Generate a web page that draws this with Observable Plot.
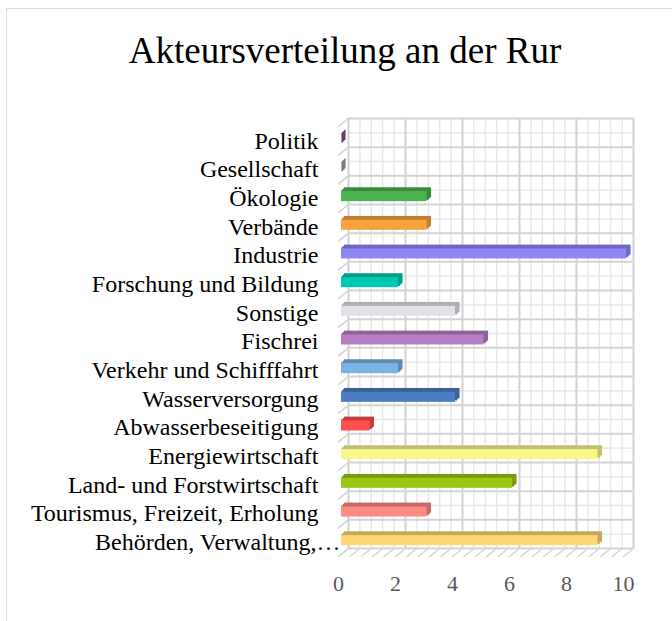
<!DOCTYPE html>
<html>
<head>
<meta charset="utf-8">
<script src="https://cdn.jsdelivr.net/npm/d3@7"></script>
<script src="https://cdn.jsdelivr.net/npm/@observablehq/plot@0.6"></script>
<style>
  html, body { margin: 0; padding: 0; background: #fff; }
  #wrap { position: relative; width: 672px; height: 621px; overflow: hidden; }
  #chart svg { display: block; }
  #border { position: absolute; left: 6px; top: 8px; width: 720px; height: 720px;
            border: 1.5px solid #d9d9d9; box-sizing: border-box; pointer-events: none; }
  #title { position: absolute; left: 0; top: 32px; width: 690px; text-align: center;
           font-family: "Liberation Serif", "Times New Roman", serif; font-size: 37px;
           line-height: 37px; color: #000; white-space: nowrap; }
</style>
</head>
<body>
<div id="wrap">
  <div id="chart"></div>
  <div id="border"></div>
  <div id="title">Akteursverteilung an der Rur</div>
</div>
<script>
// ---- data ----
const categories = [
  "Politik", "Gesellschaft", "Ökologie", "Verbände", "Industrie",
  "Forschung und Bildung", "Sonstige", "Fischrei", "Verkehr und Schifffahrt",
  "Wasserversorgung", "Abwasserbeseitigung", "Energiewirtschaft",
  "Land- und Forstwirtschaft", "Tourismus, Freizeit, Erholung", "Behörden, Verwaltung,…"
];
const values = [0, 0, 3, 3, 10, 2, 4, 5, 2, 4, 1, 9, 6, 3, 9];
const colors = [
  "#8a4a8c", "#a0a0a0", "#4db34f", "#f9a33c", "#8f87f5",
  "#00c9b1", "#e2e1e8", "#b57ec7", "#7cb2e2", "#4a7ec1",
  "#ff4f4f", "#f9f68a", "#9bc713", "#ff8a84", "#ffd773"
];
const xTicks = [0, 2, 4, 6, 8, 10];

// ---- layout / style ----
const W = 672, H = 621;
const mL = 338, mR = 49, mT = 126, mB = 65;
const n = categories.length;
const step = (H - mT - mB) / n;
const barFace = 10;
const inset = (step - barFace) / 2;
const wallDx = 10, wallDy = -8;           // back wall offset
const barDx = 3, barDy = -1.5;            // bar front face offset
const serif = "Liberation Serif, Times New Roman, serif";

const rows = categories.map((c, i) => ({
  cat: c, i, value: values[i], color: colors[i],
  dark: d3.color(colors[i]).darker(0.7).formatHex()
}));

const minorX = d3.range(0, 10.01, 0.4);
const centers = d3.range(n);
const bounds = d3.range(n + 1).map(i => i - 0.5);

const lineShape = { draw(ctx, l) { ctx.moveTo(0, 0); ctx.lineTo(0, -l); } };
const diagLen = Math.hypot(wallDx, wallDy);
const diagRot = 180 + Math.atan2(wallDx, -wallDy) * 180 / Math.PI;

const minorStroke = "#e6e6e6", majorStroke = "#d4d4d4";

const depthLayers = [3, 2, 1].map(k => Plot.rectX(rows, {
  x1: 0, x2: "value", y1: d => d.i - 0.5, y2: d => d.i + 0.5,
  insetTop: inset, insetBottom: inset, insetLeft: -0.8, insetRight: -0.8,
  fill: "dark",
  dx: barDx + 1.25 * k, dy: barDy - 1.3 * k
}));

const plot = Plot.plot({
  width: W, height: H,
  marginLeft: mL, marginRight: mR, marginTop: mT, marginBottom: mB,
  style: { fontFamily: serif, background: "transparent" },
  x: { domain: [0, 10], label: null },
  y: { domain: [n - 0.5, -0.5], label: null },
  color: { type: "identity" },
  marks: [
    // back wall grid
    Plot.ruleX(minorX, { x: d => d, y1: -0.5, y2: n - 0.5, dx: wallDx, dy: wallDy, stroke: minorStroke, strokeWidth: 1.3 }),
    Plot.ruleY(centers, { y: d => d, x1: 0, x2: 10, dx: wallDx, dy: wallDy, stroke: minorStroke, strokeWidth: 1.3 }),
    Plot.ruleX(xTicks, { x: d => d, y1: -0.5, y2: n - 0.5, dx: wallDx, dy: wallDy, stroke: majorStroke, strokeWidth: 2 }),
    Plot.ruleY(bounds, { y: d => d, x1: 0, x2: 10, dx: wallDx, dy: wallDy, stroke: majorStroke, strokeWidth: 2 }),
    // left wall diagonals
    Plot.vector(bounds, { x: () => 0, y: d => d, length: diagLen, rotate: diagRot, anchor: "start",
      shape: lineShape, fill: "none", stroke: majorStroke, strokeWidth: 1.6, dx: wallDx, dy: wallDy }),
    // floor diagonals
    Plot.vector(minorX, { x: d => d, y: () => n - 0.5, length: diagLen, rotate: diagRot, anchor: "start",
      shape: lineShape, fill: "none", stroke: majorStroke, strokeWidth: 1.4, dx: wallDx, dy: wallDy }),
    // 3D bars
    ...depthLayers,
    Plot.rectX(rows, {
      x1: 0, x2: "value", y1: d => d.i - 0.5, y2: d => d.i + 0.5,
      insetTop: inset, insetBottom: inset, fill: "color", dx: barDx, dy: barDy
    }),
    // axes
    Plot.axisX({ ticks: xTicks, tickSize: 0, tickPadding: 19, fontSize: 22, fill: "#595959",
      fontFamily: serif, label: null }),
    Plot.axisY({ ticks: centers.slice(0, n - 1), tickFormat: i => categories[i], tickSize: 0,
      tickPadding: 20, fontSize: 24, fill: "#000", fontFamily: serif, label: null }),
    Plot.axisY({ ticks: [n - 1], tickFormat: i => categories[i], tickSize: 0,
      tickPadding: -2, fontSize: 24, fill: "#000", fontFamily: serif, label: null })
  ]
});
document.getElementById("chart").appendChild(plot);
</script>
</body>
</html>
